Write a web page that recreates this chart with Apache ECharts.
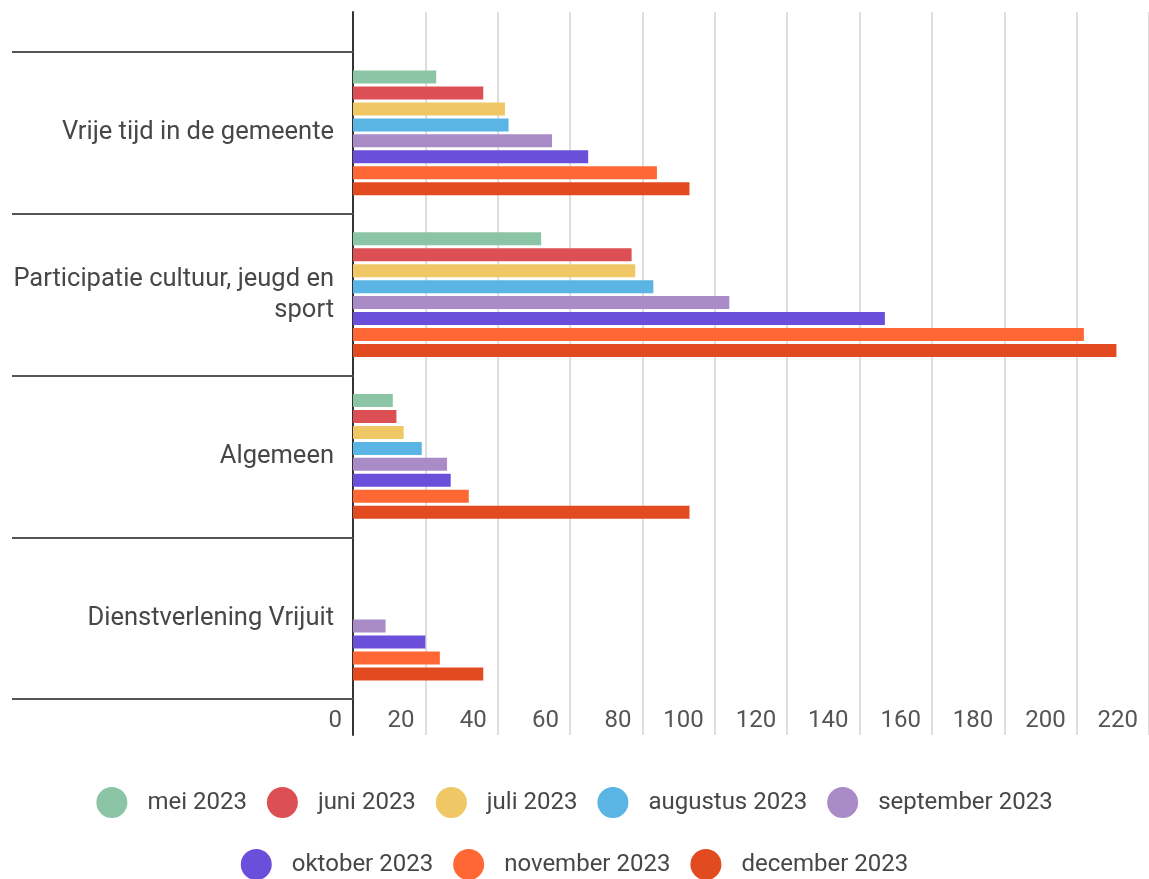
<!DOCTYPE html>
<html>
<head>
<meta charset="utf-8">
<title>Vragen per thema</title>
<script src="https://cdn.jsdelivr.net/npm/echarts@6/dist/echarts.min.js"></script>
<style>
  html, body { margin: 0; padding: 0; background: #fff; }
  #chart { width: 1149px; height: 879px; }
</style>
</head>
<body>
<div id="chart"></div>
<script>
const categories = [
  'Vrije tijd in de gemeente',
  'Participatie cultuur, jeugd en sport',
  'Algemeen',
  'Dienstverlening Vrijuit'
]

const months = [
  'mei 2023', 'juni 2023', 'juli 2023', 'augustus 2023',
  'september 2023', 'oktober 2023', 'november 2023', 'december 2023'
]

// one array per month, in category order
const mei = [23, 52, 11, null]
const juni = [36, 77, 12, null]
const juli = [42, 78, 14, null]
const augustus = [43, 83, 19, null]
const september = [55, 104, 26, 9]
const oktober = [65, 147, 27, 20]
const november = [84, 202, 32, 24]
const december = [93, 211, 93, 36]

const monthValues = [mei, juni, juli, augustus, september, oktober, november, december]

const xTicks = [0, 20, 40, 60, 80, 100, 120, 140, 160, 180, 200, 220]

const colors = ['#8cc5a5', '#db4f55', '#efc865', '#5ab4e4', '#a98bc7', '#6a4fdb', '#ff6835', '#e24b20']

const textColor = '#474747'
const font = 'Roboto, "Noto Sans", sans-serif'

const chart = echarts.init(document.getElementById('chart'))

const series = months.map((name, i) => ({
  name: name,
  type: 'bar',
  xAxisIndex: 0,
  yAxisIndex: 0,
  data: monthValues[i],
  barWidth: 13,
  barGap: '23%',
  itemStyle: { color: colors[i] }
}))

const legendBase = {
  orient: 'horizontal',
  icon: 'circle',
  itemWidth: 31,
  itemHeight: 31,
  itemGap: 20,
  selectedMode: false,
  textStyle: {
    color: textColor,
    fontSize: 24,
    fontFamily: font,
    padding: [0, 0, 0, 15]
  }
}

const option = {
  backgroundColor: '#fff',
  animation: false,
  color: colors,
  legend: [
    Object.assign({}, legendBase, { data: months.slice(0, 5), left: 'center', top: 782 }),
    Object.assign({}, legendBase, { data: months.slice(5), left: 'center', top: 844 })
  ],
  grid: [
    { left: 353, right: -5, top: 52, bottom: 180 },
    { left: 353, right: -5, top: 12, bottom: 144 }
  ],
  xAxis: [
    {
      type: 'value',
      gridIndex: 0,
      min: xTicks[0],
      max: xTicks[xTicks.length - 1],
      interval: 20,
      axisLine: { show: false },
      axisTick: { show: false },
      splitLine: { show: false },
      axisLabel: {
        color: '#555',
        fontSize: 24,
        fontFamily: font,
        align: 'right',
        margin: 10,
        padding: [0, 11, 0, 0],
        showMinLabel: true,
        showMaxLabel: true,
        hideOverlap: false
      }
    },
    {
      type: 'value',
      gridIndex: 1,
      min: xTicks[0],
      max: xTicks[xTicks.length - 1],
      interval: 20,
      axisLine: { show: false },
      axisTick: { show: false },
      axisLabel: { show: false },
      splitLine: { show: true, lineStyle: { color: '#dedede', width: 2 } }
    }
  ],
  yAxis: [
    {
      type: 'category',
      gridIndex: 0,
      inverse: true,
      data: categories,
      axisLine: { show: true, lineStyle: { color: '#333', width: 2 } },
      axisTick: { show: true, length: 341, lineStyle: { color: '#555', width: 2 } },
      axisLabel: {
        color: textColor,
        fontSize: 25.5,
        fontFamily: font,
        margin: 19,
        lineHeight: 31,
        formatter: v => v.replace('jeugd en sport', 'jeugd en\nsport')
      },
      splitLine: { show: false }
    },
    {
      type: 'value',
      gridIndex: 1,
      min: 0,
      max: 1,
      axisLine: { show: true, onZero: false, lineStyle: { color: '#333', width: 2 } },
      axisTick: { show: false },
      axisLabel: { show: false },
      splitLine: { show: false }
    }
  ],
  series: series
}

chart.setOption(option)
</script>
</body>
</html>
